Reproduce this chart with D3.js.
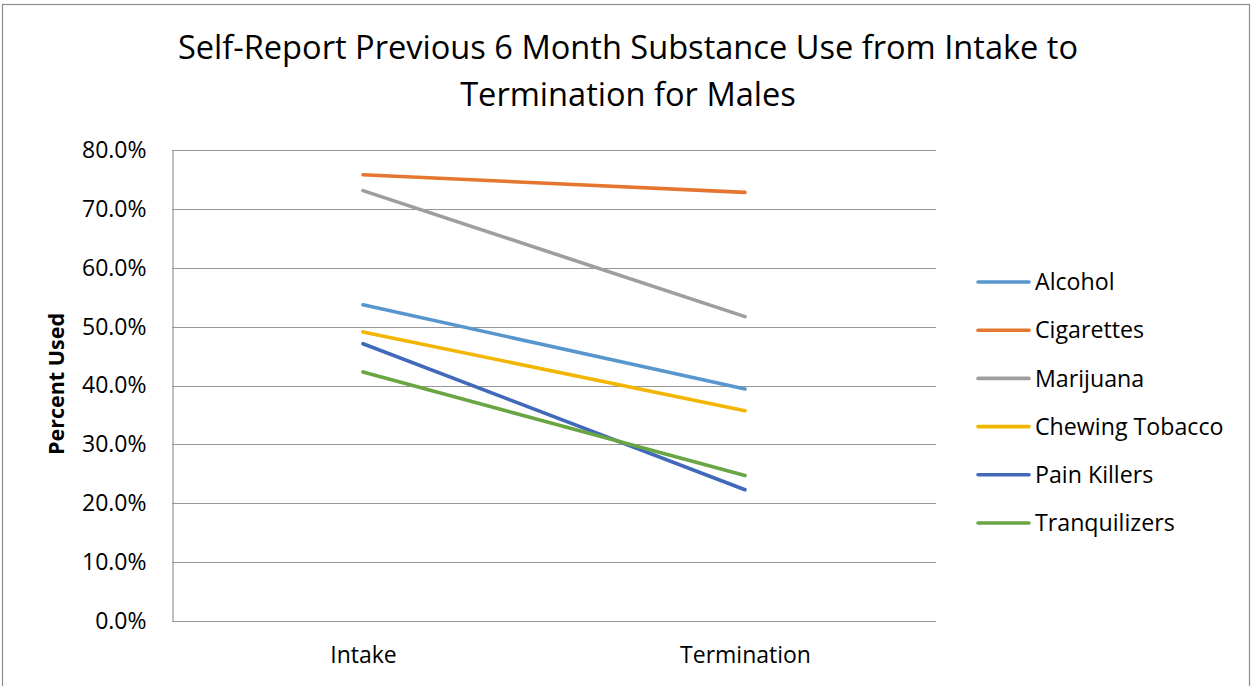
<!DOCTYPE html>
<html>
<head>
<meta charset="utf-8">
<script src="https://cdn.jsdelivr.net/npm/d3@7"></script>
<style>
  html, body { margin: 0; padding: 0; background: #fff; }
  svg { display: block; font-family: "Open Sans", "Noto Sans", sans-serif; }
</style>
</head>
<body>
<svg id="chart" width="1251" height="686"></svg>
<script>
// Share of males reporting use in the previous 6 months, at intake and at termination
const categories = ["Intake", "Termination"];
const seriesNames = ["Alcohol", "Cigarettes", "Marijuana", "Chewing Tobacco", "Pain Killers", "Tranquilizers"];
const alcohol = [0.537, 0.394];
const cigarettes = [0.758, 0.728];
const marijuana = [0.731, 0.517];
const chewingTobacco = [0.491, 0.357];
const painKillers = [0.471, 0.223];
const tranquilizers = [0.423, 0.247];
const yTicks = [0, 0.1, 0.2, 0.3, 0.4, 0.5, 0.6, 0.7, 0.8];
const colors = ["#5896CE", "#E4762F", "#9E9E9E", "#F2B600", "#4169BA", "#6AA544"];

const seriesValues = [alcohol, cigarettes, marijuana, chewingTobacco, painKillers, tranquilizers];
const series = seriesNames.map((name, i) => ({
  name,
  color: colors[i],
  values: categories.map((c, j) => ({ category: c, value: seriesValues[i][j] }))
}));

const svg = d3.select("#chart");
const W = 1251, H = 686;
const plot = { left: 172, right: 936, top: 150, bottom: 621 };

// Outer chart border
svg.append("rect")
  .attr("x", 2.5).attr("y", 4.5)
  .attr("width", W - 4).attr("height", H + 10)
  .attr("fill", "none").attr("stroke", "#8c8c8c").attr("stroke-width", 1.2);

// Title
const title = svg.append("text")
  .attr("text-anchor", "middle")
  .attr("font-size", 32.6)
  .attr("fill", "#000");
title.append("tspan").attr("x", 628).attr("y", 59).text("Self-Report Previous 6 Month Substance Use from Intake to");
title.append("tspan").attr("x", 628).attr("y", 106).text("Termination for Males");

const x = d3.scalePoint().domain(categories).range([plot.left, plot.right]).padding(0.5);
const y = d3.scaleLinear().domain([0, 0.8]).range([plot.bottom, plot.top]);

// Horizontal gridlines
svg.append("g")
  .selectAll("line")
  .data(yTicks)
  .join("line")
  .attr("x1", plot.left).attr("x2", plot.right)
  .attr("y1", d => Math.round(y(d)) + 0.5).attr("y2", d => Math.round(y(d)) + 0.5)
  .attr("stroke", "#979797").attr("stroke-width", 1.2);

// Y axis
const yAxis = svg.append("g")
  .attr("transform", `translate(${plot.left + 0.5},0)`)
  .call(d3.axisLeft(y).tickValues(yTicks).tickFormat(d3.format(".1%")).tickSize(0).tickPadding(26));
yAxis.select(".domain").attr("stroke", "#979797").attr("stroke-width", 1.2);
yAxis.selectAll("text").attr("font-size", 23).attr("fill", "#000")
  .attr("font-family", "'Open Sans', sans-serif");

// X axis
const xAxis = svg.append("g")
  .attr("transform", `translate(0,${Math.round(y(0)) + 0.5})`)
  .call(d3.axisBottom(x).tickSize(0).tickPadding(25));
xAxis.select(".domain").remove();
xAxis.selectAll("text").attr("font-size", 23).attr("fill", "#000")
  .attr("font-family", "'Open Sans', sans-serif");

// Y axis title
svg.append("text")
  .attr("transform", `translate(64,384) rotate(-90)`)
  .attr("text-anchor", "middle")
  .attr("font-size", 21.5).attr("font-weight", "bold")
  .text("Percent Used");

// Series lines
const line = d3.line().x(d => x(d.category)).y(d => y(d.value));
svg.append("g")
  .selectAll("path")
  .data(series)
  .join("path")
  .attr("d", d => line(d.values))
  .attr("fill", "none")
  .attr("stroke", d => d.color)
  .attr("stroke-width", 3.6)
  .attr("stroke-linecap", "round");

// Legend
const legendY = d3.scalePoint().domain(seriesNames).range([282, 523]);
const legend = svg.append("g")
  .selectAll("g")
  .data(series)
  .join("g")
  .attr("transform", d => `translate(0,${legendY(d.name)})`);
legend.append("line")
  .attr("x1", 978).attr("x2", 1029)
  .attr("stroke", d => d.color).attr("stroke-width", 3.6).attr("stroke-linecap", "round");
legend.append("text")
  .attr("x", 1035).attr("dy", "0.35em")
  .attr("font-size", 23.2)
  .text(d => d.name);
</script>
</body>
</html>
